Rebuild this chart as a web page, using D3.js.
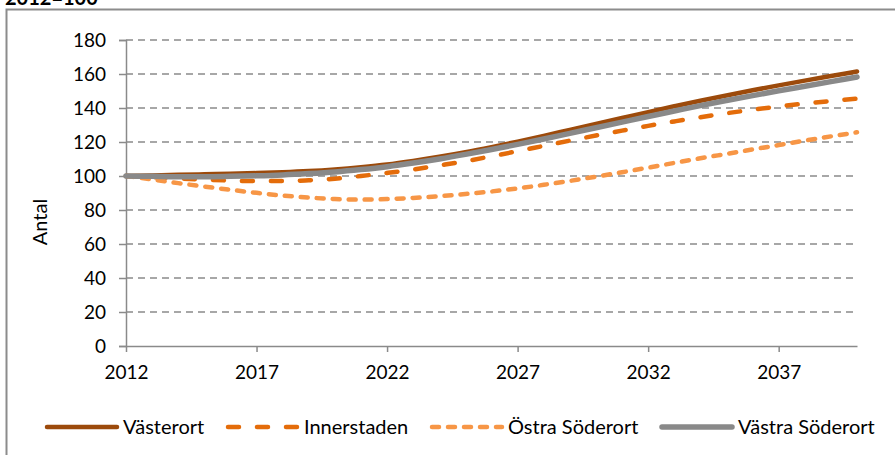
<!DOCTYPE html>
<html>
<head>
<meta charset="utf-8">
<script src="https://cdn.jsdelivr.net/npm/d3@7"></script>
<style>
  html, body { margin: 0; padding: 0; background: #fff; }
  svg { display: block; font-family: Lato, "Open Sans", sans-serif; }
</style>
</head>
<body>
<svg id="chart" width="895" height="455"></svg>
<script>
const years = d3.range(2012, 2041);
const xTickYears = [2012, 2017, 2022, 2027, 2032, 2037];
const yTicks = [0, 20, 40, 60, 80, 100, 120, 140, 160, 180];

const vasterort = [100, 100.3, 100.7, 101, 101.3, 101.7, 102.2, 102.9, 103.9, 105.2, 106.8, 108.9, 111.3, 114.0, 117.0, 120.2, 123.6, 127.1, 130.6, 134.1, 137.6, 141.0, 144.3, 147.4, 150.4, 153.3, 156.1, 158.8, 161.5];
const innerstaden = [100, 99.4, 98.6, 97.9, 97.3, 97.0, 97.0, 97.5, 98.4, 100.0, 101.8, 103.8, 106.2, 108.7, 111.6, 114.6, 117.7, 120.8, 123.8, 126.7, 129.5, 132.1, 134.6, 136.9, 139.0, 140.9, 142.6, 144.1, 145.5];
const ostraSoderort = [100, 98.0, 95.8, 93.8, 91.9, 90.1, 88.5, 87.3, 86.4, 86.1, 86.4, 87.1, 88.1, 89.4, 90.9, 92.7, 94.8, 97.1, 99.6, 102.2, 104.9, 107.7, 110.4, 113.0, 115.6, 118.2, 120.8, 123.3, 125.7];
const vastraSoderort = [100, 99.8, 99.6, 99.6, 99.8, 100.1, 100.6, 101.4, 102.4, 103.8, 105.5, 107.6, 110.0, 112.7, 115.6, 118.6, 121.8, 125.1, 128.4, 131.7, 135.0, 138.2, 141.4, 144.4, 147.3, 150.1, 152.8, 155.5, 158.2];

const seriesNames = ["Västerort", "Innerstaden", "Östra Söderort", "Västra Söderort"];
const seriesValues = [vasterort, innerstaden, ostraSoderort, vastraSoderort];
const seriesColors = ["#9C4A0B", "#E46C0A", "#F79646", "#898989"];
const seriesWidths = [4.5, 4.5, 4.5, 5.5];
const seriesDash = [null, "11,18", "7,9", null];
const drawOrder = [0, 1, 2, 3];

const svg = d3.select("#chart");

// outer chart border (extends off-canvas right/bottom, as in the reference)
svg.append("rect")
  .attr("x", 6.5).attr("y", 9.5)
  .attr("width", 950).attr("height", 600)
  .attr("fill", "none").attr("stroke", "#8c8c8c").attr("stroke-width", 2);

// title, partly cut off at the top as in the reference
svg.append("text")
  .attr("x", 5).attr("y", 5)
  .attr("font-size", 20).attr("font-weight", "bold").attr("fill", "#000")
  .text("2012=100");

const x = d3.scaleLinear().domain([2012, 2040]).range([126, 857]);
const y = d3.scaleLinear().domain([0, 180]).range([346, 40]);

// gridlines
svg.append("g").selectAll("line")
  .data(yTicks.filter(d => d > 0))
  .join("line")
  .attr("x1", x(2012)).attr("x2", x(2040))
  .attr("y1", d => y(d)).attr("y2", d => y(d))
  .attr("stroke", "#8a8a8a").attr("stroke-width", 1.3)
  .attr("stroke-dasharray", "7,5");

// y axis
const yAxis = svg.append("g")
  .attr("transform", `translate(${x(2012)},0)`)
  .call(d3.axisLeft(y).tickValues(yTicks).tickSize(7).tickPadding(13).tickFormat(d3.format("d")));
yAxis.select(".domain").attr("stroke", "#8a8a8a").attr("stroke-width", 1.5);
yAxis.selectAll(".tick line").attr("stroke", "#8a8a8a").attr("stroke-width", 1.5);
yAxis.selectAll(".tick text").attr("font-size", 19).attr("fill", "#000").attr("font-family", "Lato, sans-serif");

// x axis
const xAxis = svg.append("g")
  .attr("transform", `translate(0,${y(0)})`)
  .call(d3.axisBottom(x).tickValues(xTickYears).tickSize(6).tickPadding(14).tickFormat(d3.format("d")).tickSizeOuter(0));
xAxis.select(".domain").attr("stroke", "#8a8a8a").attr("stroke-width", 1.5);
xAxis.selectAll(".tick line").attr("stroke", "#8a8a8a").attr("stroke-width", 1.5);
xAxis.selectAll(".tick text").attr("font-size", 19).attr("fill", "#000").attr("font-family", "Lato, sans-serif");

// y axis title
svg.append("text")
  .attr("transform", `translate(47,222) rotate(-90)`)
  .attr("text-anchor", "middle")
  .attr("font-size", 20).attr("fill", "#000")
  .text("Antal");

// lines
const line = d3.line()
  .x((d, i) => x(years[i]))
  .y(d => y(d))
  .curve(d3.curveMonotoneX);

drawOrder.forEach(k => {
  svg.append("path")
    .datum(seriesValues[k])
    .attr("fill", "none")
    .attr("stroke", seriesColors[k])
    .attr("stroke-width", seriesWidths[k])
    .attr("stroke-linecap", "round")
    .attr("stroke-linejoin", "round")
    .attr("stroke-dasharray", seriesDash[k])
    .attr("d", line);
});

// legend
const legendX = [47, 228, 432, 662];
const legendY = 427;
const legend = svg.append("g");
seriesNames.forEach((name, k) => {
  legend.append("line")
    .attr("x1", legendX[k]).attr("x2", legendX[k] + 70)
    .attr("y1", legendY).attr("y2", legendY)
    .attr("stroke", seriesColors[k])
    .attr("stroke-width", seriesWidths[k])
    .attr("stroke-linecap", "round")
    .attr("stroke-dasharray", seriesDash[k]);
  legend.append("text")
    .attr("x", legendX[k] + 76).attr("y", 434)
    .attr("font-size", 20).attr("fill", "#000")
    .text(name);
});
</script>
</body>
</html>
